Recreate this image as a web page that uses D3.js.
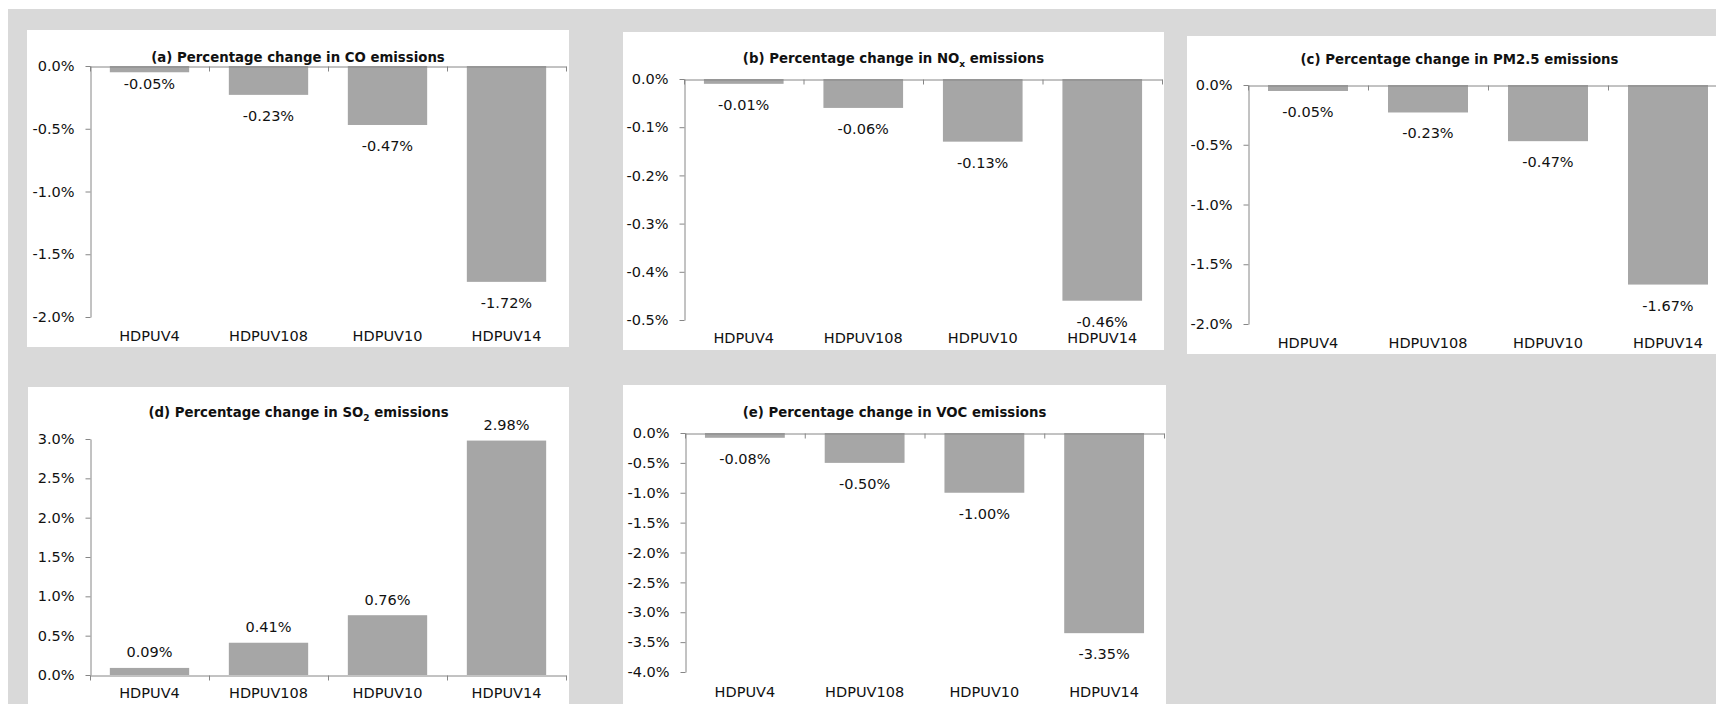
<!DOCTYPE html>
<html>
<head>
<meta charset="utf-8">
<script src="https://cdn.jsdelivr.net/npm/d3@7"></script>
<style>
  html, body { margin: 0; padding: 0; background: #ffffff; }
  svg { display: block; }
  text { font-family: "DejaVu Sans", "Liberation Sans", sans-serif; fill: #111; }
</style>
</head>
<body>
<svg id="chart" width="1716" height="704"></svg>
<script>
// ---------------- data ----------------
const categories = ["HDPUV4", "HDPUV108", "HDPUV10", "HDPUV14"];

const coValues   = [-0.05, -0.23, -0.47, -1.72];
const noxValues  = [-0.01, -0.06, -0.13, -0.46];
const pm25Values = [-0.05, -0.23, -0.47, -1.67];
const so2Values  = [0.09, 0.41, 0.76, 2.98];
const vocValues  = [-0.08, -0.50, -1.00, -3.35];

const coTicks   = [0, -0.5, -1.0, -1.5, -2.0];
const noxTicks  = [0, -0.1, -0.2, -0.3, -0.4, -0.5];
const pm25Ticks = [0, -0.5, -1.0, -1.5, -2.0];
const so2Ticks  = [0, 0.5, 1.0, 1.5, 2.0, 2.5, 3.0];
const vocTicks  = [0, -0.5, -1.0, -1.5, -2.0, -2.5, -3.0, -3.5, -4.0];

const coTitle   = [{t: "(a) Percentage change in CO emissions"}];
const noxTitle  = [{t: "(b) Percentage change in NO"}, {t: "x", sub: true}, {t: " emissions"}];
const pm25Title = [{t: "(c) Percentage change in PM2.5 emissions"}];
const so2Title  = [{t: "(d) Percentage change in SO"}, {t: "2", sub: true}, {t: " emissions"}];
const vocTitle  = [{t: "(e) Percentage change in VOC emissions"}];

// ---------------- layout ----------------
const panels = [
  { title: coTitle, values: coValues, ticks: coTicks,
    box: {x: 27, y: 30, w: 542, h: 317}, plot: {x0: 90, x1: 566, top: 66, bottom: 317},
    titleY: 62, catY: 341, nudge: [-9.5, 0, 0, 0] },
  { title: noxTitle, values: noxValues, ticks: noxTicks,
    box: {x: 623, y: 32, w: 541, h: 318}, plot: {x0: 684, x1: 1162, top: 79, bottom: 320},
    titleY: 63, catY: 343 },
  { title: pm25Title, values: pm25Values, ticks: pm25Ticks,
    box: {x: 1187, y: 36, w: 545, h: 318}, plot: {x0: 1248, x1: 1728, top: 85, bottom: 324},
    titleY: 64, catY: 348 },
  { title: so2Title, values: so2Values, ticks: so2Ticks,
    box: {x: 28, y: 387, w: 541, h: 317}, plot: {x0: 90, x1: 566, top: 439, bottom: 675},
    titleY: 417, catY: 698 },
  { title: vocTitle, values: vocValues, ticks: vocTicks,
    box: {x: 623, y: 385, w: 543, h: 319}, plot: {x0: 685, x1: 1164, top: 433, bottom: 672},
    titleY: 417, catY: 697 }
];

const BAR = "#a6a6a6", AXIS = "#868686";
const tickFont = 14.5, titleFont = 13.3;

const svg = d3.select("#chart");

// page background
svg.append("rect").attr("x", 8).attr("y", 9).attr("width", 1716 - 8).attr("height", 704 - 9)
  .attr("fill", "#d9d9d9");

const fmtTick = d => d.toFixed(1) + "%";
const fmtLabel = d => d.toFixed(2) + "%";

panels.forEach(p => {
  const g = svg.append("g");
  g.append("rect").attr("x", p.box.x).attr("y", p.box.y)
    .attr("width", p.box.w).attr("height", p.box.h).attr("fill", "#ffffff");

  const ext = d3.extent(p.ticks);
  const y = d3.scaleLinear().domain(ext).range([p.plot.bottom, p.plot.top]);
  const x = d3.scaleBand().domain(categories).range([p.plot.x0, p.plot.x1])
    .paddingInner(1 / 3).paddingOuter(1 / 6);
  const xEdge = d3.scaleLinear().domain([0, categories.length]).range([p.plot.x0, p.plot.x1]);

  // bars
  g.selectAll("rect.bar").data(p.values).join("rect")
    .attr("class", "bar")
    .attr("x", (d, i) => x(categories[i]))
    .attr("width", x.bandwidth())
    .attr("y", d => Math.min(y(d), y(0)))
    .attr("height", d => Math.abs(y(d) - y(0)))
    .attr("fill", BAR);

  // y axis
  const yAxis = g.append("g").attr("transform", `translate(${p.plot.x0 + 0.5},0)`)
    .call(d3.axisLeft(y).tickValues(p.ticks).tickSize(5).tickSizeOuter(0)
      .tickPadding(11).tickFormat(fmtTick));
  yAxis.select(".domain").attr("stroke", AXIS);
  yAxis.selectAll(".tick line").attr("stroke", AXIS);
  yAxis.selectAll(".tick text").attr("font-size", tickFont)
    .attr("font-family", "DejaVu Sans").attr("fill", "#111");

  // category axis at zero
  const xAxis = g.append("g").attr("transform", `translate(0,${Math.round(y(0)) + 0.5})`)
    .call(d3.axisBottom(xEdge).tickValues(d3.range(categories.length + 1))
      .tickSize(5).tickSizeOuter(0).tickFormat(""));
  xAxis.select(".domain").attr("stroke", AXIS);
  xAxis.selectAll(".tick line").attr("stroke", AXIS);

  // category labels
  g.selectAll("text.cat").data(categories).join("text")
    .attr("class", "cat")
    .attr("x", d => x(d) + x.bandwidth() / 2)
    .attr("y", p.catY)
    .attr("text-anchor", "middle")
    .attr("font-size", tickFont)
    .text(d => d);

  // data labels
  g.selectAll("text.val").data(p.values).join("text")
    .attr("class", "val")
    .attr("x", (d, i) => x(categories[i]) + x.bandwidth() / 2)
    .attr("y", (d, i) => (d < 0 ? y(d) + 26 : y(d) - 10.5) + (p.nudge ? p.nudge[i] : 0))
    .attr("text-anchor", "middle")
    .attr("font-size", tickFont)
    .text(d => fmtLabel(d));

  // title
  const t = g.append("text")
    .attr("x", p.box.x + p.box.w / 2)
    .attr("y", p.titleY)
    .attr("text-anchor", "middle")
    .attr("font-weight", "bold")
    .attr("font-size", titleFont);
  p.title.forEach(seg => {
    if (seg.sub) {
      t.append("tspan").attr("font-size", titleFont * 0.68).attr("dy", 3.5).text(seg.t);
    } else {
      const ts = t.append("tspan").text(seg.t);
      if (t.selectAll("tspan").size() > 1) ts.attr("dy", -3.5);
    }
  });
});
</script>
</body>
</html>
